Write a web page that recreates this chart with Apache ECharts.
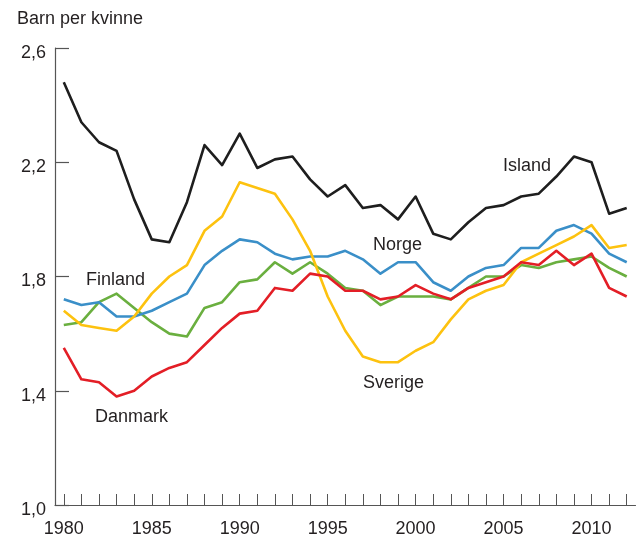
<!DOCTYPE html>
<html>
<head>
<meta charset="utf-8">
<script src="https://cdn.jsdelivr.net/npm/echarts@6/dist/echarts.min.js"></script>
<style>
  html, body { margin: 0; padding: 0; background: #fff; }
  #chart { width: 640px; height: 538px; }
</style>
</head>
<body>
<div id="chart"></div>
<script>
  const years = [];
  for (let y = 1980; y <= 2012; y++) years.push(String(y));

  const yTicks = [1.0, 1.4, 1.8, 2.2, 2.6];

  const island = [2.48, 2.34, 2.27, 2.24, 2.07, 1.93, 1.92, 2.06, 2.26, 2.19, 2.30, 2.18, 2.21, 2.22, 2.14, 2.08,
    2.12, 2.04, 2.05, 2.00, 2.08, 1.95, 1.93, 1.99, 2.04, 2.05, 2.08, 2.09, 2.15, 2.22, 2.20, 2.02, 2.04];
  const norge = [1.72, 1.70, 1.71, 1.66, 1.66, 1.68, 1.71, 1.74, 1.84, 1.89, 1.93, 1.92, 1.88, 1.86, 1.87, 1.87,
    1.89, 1.86, 1.81, 1.85, 1.85, 1.78, 1.75, 1.80, 1.83, 1.84, 1.90, 1.90, 1.96, 1.98, 1.95, 1.88, 1.85];
  const finland = [1.63, 1.64, 1.71, 1.74, 1.69, 1.64, 1.60, 1.59, 1.69, 1.71, 1.78, 1.79, 1.85, 1.81, 1.85, 1.81,
    1.76, 1.75, 1.70, 1.73, 1.73, 1.73, 1.72, 1.76, 1.80, 1.80, 1.84, 1.83, 1.85, 1.86, 1.87, 1.83, 1.80];
  const sverige = [1.68, 1.63, 1.62, 1.61, 1.66, 1.74, 1.80, 1.84, 1.96, 2.01, 2.13, 2.11, 2.09, 2.00, 1.89, 1.73,
    1.61, 1.52, 1.50, 1.50, 1.54, 1.57, 1.65, 1.72, 1.75, 1.77, 1.85, 1.88, 1.91, 1.94, 1.98, 1.90, 1.91];
  const danmark = [1.55, 1.44, 1.43, 1.38, 1.40, 1.45, 1.48, 1.50, 1.56, 1.62, 1.67, 1.68, 1.76, 1.75, 1.81, 1.80,
    1.75, 1.75, 1.72, 1.73, 1.77, 1.74, 1.72, 1.76, 1.78, 1.80, 1.85, 1.84, 1.89, 1.84, 1.88, 1.76, 1.73];

  const FONT = 'Liberation Sans, Arial, sans-serif';
  const TEXT = '#231f20';
  const AXIS = '#555555';

  const chart = echarts.init(document.getElementById('chart'), null, { renderer: 'canvas' });

  const line = (name, data, color) => ({
    name,
    type: 'line',
    data,
    symbol: 'none',
    smooth: false,
    lineStyle: { color, width: 2.6, join: 'round' },
    itemStyle: { color },
    animation: false
  });

  const label = (text, left, top) => ({
    type: 'text',
    left,
    top,
    style: { text, fill: TEXT, font: `18px ${FONT}` }
  });

  chart.setOption({
    animation: false,
    grid: { left: 55, top: 48, right: 4.5, bottom: 33, containLabel: false },
    xAxis: {
      type: 'category',
      data: years,
      boundaryGap: true,
      axisLine: { show: true, lineStyle: { color: AXIS, width: 1.2 } },
      axisTick: {
        show: true,
        inside: true,
        length: 11,
        alignWithLabel: true,
        interval: 0,
        lineStyle: { color: AXIS, width: 1 }
      },
      axisLabel: {
        interval: 4,
        margin: 15,
        color: TEXT,
        fontSize: 18,
        fontFamily: FONT
      },
      splitLine: { show: false }
    },
    yAxis: {
      type: 'value',
      min: yTicks[0],
      max: yTicks[yTicks.length - 1],
      interval: 0.4,
      axisLine: { show: true, lineStyle: { color: AXIS, width: 1.2 } },
      axisTick: { show: true, inside: true, length: 14, lineStyle: { color: AXIS, width: 1.2 } },
      axisLabel: {
        margin: 9,
        formatter: v => '{a|' + v.toFixed(1).replace('.', ',') + '}',
        rich: {
          a: {
            color: TEXT,
            fontSize: 18,
            fontFamily: FONT,
            padding: [10, 0, 0, 0]
          }
        }
      },
      splitLine: { show: false }
    },
    series: [
      line('Finland', finland, '#6aaf3f'),
      line('Norge', norge, '#3a8fc8'),
      line('Sverige', sverige, '#fdc20f'),
      line('Danmark', danmark, '#e31e26'),
      line('Island', island, '#1e1e1e')
    ],
    graphic: [
      label('Barn per kvinne', 17, 10),
      label('Island', 503, 157),
      label('Norge', 373, 236),
      label('Finland', 86, 271),
      label('Sverige', 363, 374),
      label('Danmark', 95, 408)
    ]
  });
</script>
</body>
</html>
